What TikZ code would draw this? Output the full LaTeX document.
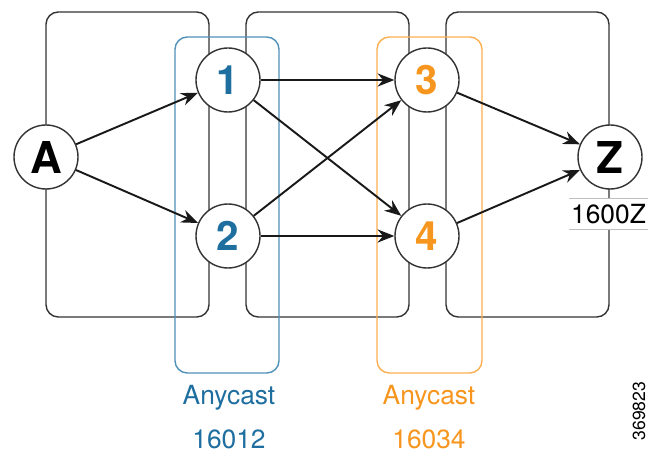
\documentclass[tikz,border=0pt]{standalone}
\usepackage{fontspec}
\setmainfont{TeX Gyre Heros}
\usetikzlibrary{arrows.meta}

\definecolor{anyblue}{RGB}{30,110,160}
\definecolor{anyblueline}{RGB}{80,145,185}
\definecolor{anyorange}{RGB}{247,150,30}
\definecolor{anyorangeline}{RGB}{250,175,80}

\tikzset{
  router/.style={circle, draw=black!80, line width=0.8pt, fill=white,
    minimum size=64*0.02cm, inner sep=0pt, font=\fontsize{23}{25}\selectfont\bfseries},
  areabox/.style={draw=black!80, line width=0.8pt, rounded corners=7pt},
  anygroup/.style={line width=0.8pt, rounded corners=7pt},
  flow/.style={->, line width=1.1pt, black!90},
  caption/.style={font=\fontsize{15}{17}\selectfont, inner sep=1pt}
}

\begin{document}
\begin{tikzpicture}[x=0.02cm, y=-0.02cm, >={Stealth[length=9.5pt,width=7.5pt]}]

      \useasboundingbox (0,0) rectangle (648,455);

      % areas
      \draw[areabox] (46,12) rectangle (209,317);
      \draw[areabox] (246,12) rectangle (409,317);
      \draw[areabox] (446,12) rectangle (609,317);

      % anycast groups
      \draw[anygroup, anyblueline] (175,37) rectangle (279,373);
      \draw[anygroup, anyorangeline] (377,37) rectangle (482,373);

      % routers
      \node[router] (A) at (46,157) {\fontsize{25}{27}\selectfont A};
      \node[router, text=anyblue] (r1) at (228,80) {1};
      \node[router, text=anyblue] (r2) at (228,236) {2};
      \node[router, text=anyorange] (r3) at (427,80) {3};
      \node[router, text=anyorange] (r4) at (427,236) {4};
      \node[router] (Z) at (610,157) {\fontsize{25}{27}\selectfont Z};

      \draw[flow] (A) -- (r1);
      \draw[flow] (A) -- (r2);
      \draw[flow] (r1) -- (r3);
      \draw[flow] (r1) -- (r4);
      \draw[flow] (r2) -- (r3);
      \draw[flow] (r2) -- (r4);
      \draw[flow] (r3) -- (Z);
      \draw[flow] (r4) -- (Z);

      % prefix SID of Z
      \node[caption, fill=white, anchor=east, minimum height=30*0.02cm] (sidZ) at (648,214) {1600Z};
      \draw[black!25, line width=0.5pt] (sidZ.north west) -- (sidZ.north east);
      \draw[black!25, line width=0.5pt] (sidZ.south west) -- (sidZ.south east);

      % anycast labels
      \node[caption, text=anyblue] (any12) at (229,398) {Anycast};
      \node[caption, text=anyblue] (sid12) at (229,439) {16012};
      \node[caption, text=anyorange] (any34) at (429,398) {Anycast};
      \node[caption, text=anyorange] (sid34) at (429,439) {16034};

      \node[rotate=90, font=\fontsize{10}{12}\selectfont] (fig) at (639,411) {369823};
    \end{tikzpicture}
\end{document}
